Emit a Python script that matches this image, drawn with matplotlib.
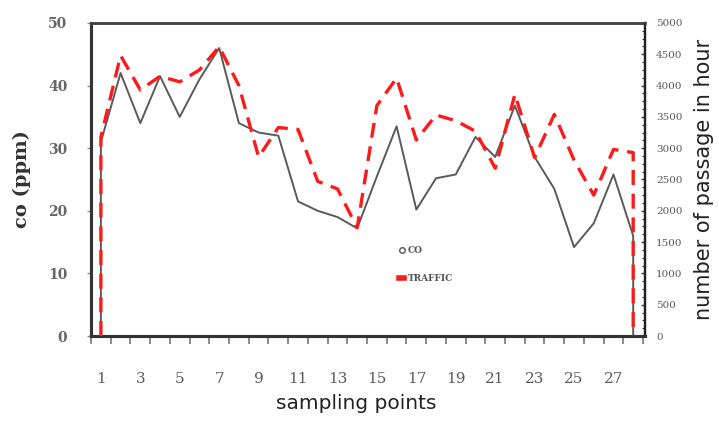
import matplotlib
matplotlib.use("Agg")
import matplotlib.pyplot as plt
from matplotlib.lines import Line2D
from matplotlib.ticker import MultipleLocator, FixedLocator
import numpy as np

# ---- data ----
points = list(range(1, 29))
co_ppm = [31, 42, 34, 41.5, 35, 41, 46, 34, 32.5, 32, 21.5, 20, 19, 17.2,
          25.5, 33.5, 20.2, 25.2, 25.8, 31.8, 28.6, 36.8, 28.6, 23.5, 14.2,
          18, 25.8, 16]
traffic = [3180, 4480, 3930, 4150, 4060, 4250, 4620, 4000, 2860, 3330, 3300,
           2470, 2350, 1730, 3680, 4120, 3130, 3530, 3440, 3270, 2680, 3860,
           2850, 3540, 2810, 2250, 2980, 2930]
x_labels = list(range(1, 29, 2))
left_ticks = [0, 10, 20, 30, 40, 50]
right_ticks = list(range(0, 5001, 500))

# series drawn from the baseline (vertical drop at both ends)
x_full = np.concatenate([[points[0]], points, [points[-1]]])
co_full = np.concatenate([[0], co_ppm, [0]])
tr_full = np.concatenate([[0], traffic, [0]])

fig = plt.figure(figsize=(7.19, 4.25), dpi=100)
ax = fig.add_axes([0.1266, 0.2094, 0.7705, 0.7365])
ax2 = ax.twinx()

gray = "#5a5a5a"
ax.plot(x_full, co_full, color="#5a5a5a", lw=1.4, zorder=2)
ax2.plot(x_full, tr_full, color="#ff1a1a", lw=2.4, dashes=(4.5, 2.6), zorder=3)

ax.set_xlim(0.5, 28.6)
ax.set_ylim(0, 50)
ax2.set_ylim(0, 5000)

# x ticks: tick marks between points, labels on odd points
ax.xaxis.set_major_locator(FixedLocator(x_labels))
ax.set_xticklabels([str(v) for v in x_labels], fontfamily="DejaVu Serif",
                   fontsize=11, color=gray)
ax.xaxis.set_minor_locator(FixedLocator(np.arange(0.5, 28.6, 1.0)))
ax.tick_params(axis="x", which="major", length=0, pad=26)
ax.tick_params(axis="x", which="minor", length=6, width=1.2, color="#777777",
               direction="out")

ax.set_yticks(left_ticks)
ax.set_yticklabels([str(v) for v in left_ticks], fontfamily="DejaVu Serif",
                   fontsize=10, color="#666666", fontweight="bold")
ax.tick_params(axis="y", which="major", length=3, width=1, color="#888888",
               direction="out", pad=14)

ax2.set_yticks(right_ticks)
ax2.set_yticklabels([str(v) for v in right_ticks], fontfamily="DejaVu Serif",
                    fontsize=7.5, color=gray)
ax2.yaxis.set_minor_locator(MultipleLocator(125))
ax2.tick_params(axis="y", which="major", length=3, width=1, direction="in",
                color="#333333", pad=8)
ax2.tick_params(axis="y", which="minor", length=2, width=0.8, direction="in",
                color="#333333")

for a in (ax, ax2):
    a.spines["left"].set_linewidth(2.2)
    a.spines["left"].set_color("#333333")
    a.spines["bottom"].set_linewidth(2.2)
    a.spines["bottom"].set_color("#333333")
    a.spines["top"].set_linewidth(1.8)
    a.spines["top"].set_color("#444444")
    a.spines["right"].set_linewidth(1.6)
    a.spines["right"].set_color("#222222")
    a.spines["right"].set_linestyle((0, (1, 1)))

ax.set_ylabel("co (ppm)", fontfamily="DejaVu Serif", fontweight="bold",
              fontsize=14, color="#333333", labelpad=12)
ax.set_xlabel("sampling points", fontfamily="DejaVu Sans", fontsize=14.5,
              color="#222222", labelpad=8)
ax.xaxis.set_label_coords(0.478, -0.185)
ax2.set_ylabel("number of passage in hour", fontfamily="DejaVu Sans",
               fontsize=15, color="#222222", labelpad=8)

handles = [Line2D([], [], ls="none", marker="o", ms=4, mfc="none",
                  mec="#555555", mew=1),
           Line2D([], [], color="#ff1a1a", lw=4)]
leg = ax2.legend(handles, ["CO", "TRAFFIC"], loc="upper left",
                 bbox_to_anchor=(0.556, 0.288), frameon=False,
                 prop={"family": "DejaVu Serif", "size": 6.5, "weight": "bold"},
                 handlelength=0.6, handletextpad=0.4, labelspacing=2.1,
                 borderaxespad=0, borderpad=0)
for t in leg.get_texts():
    t.set_color("#555555")

fig.savefig("out.png", dpi=100, facecolor="white")
